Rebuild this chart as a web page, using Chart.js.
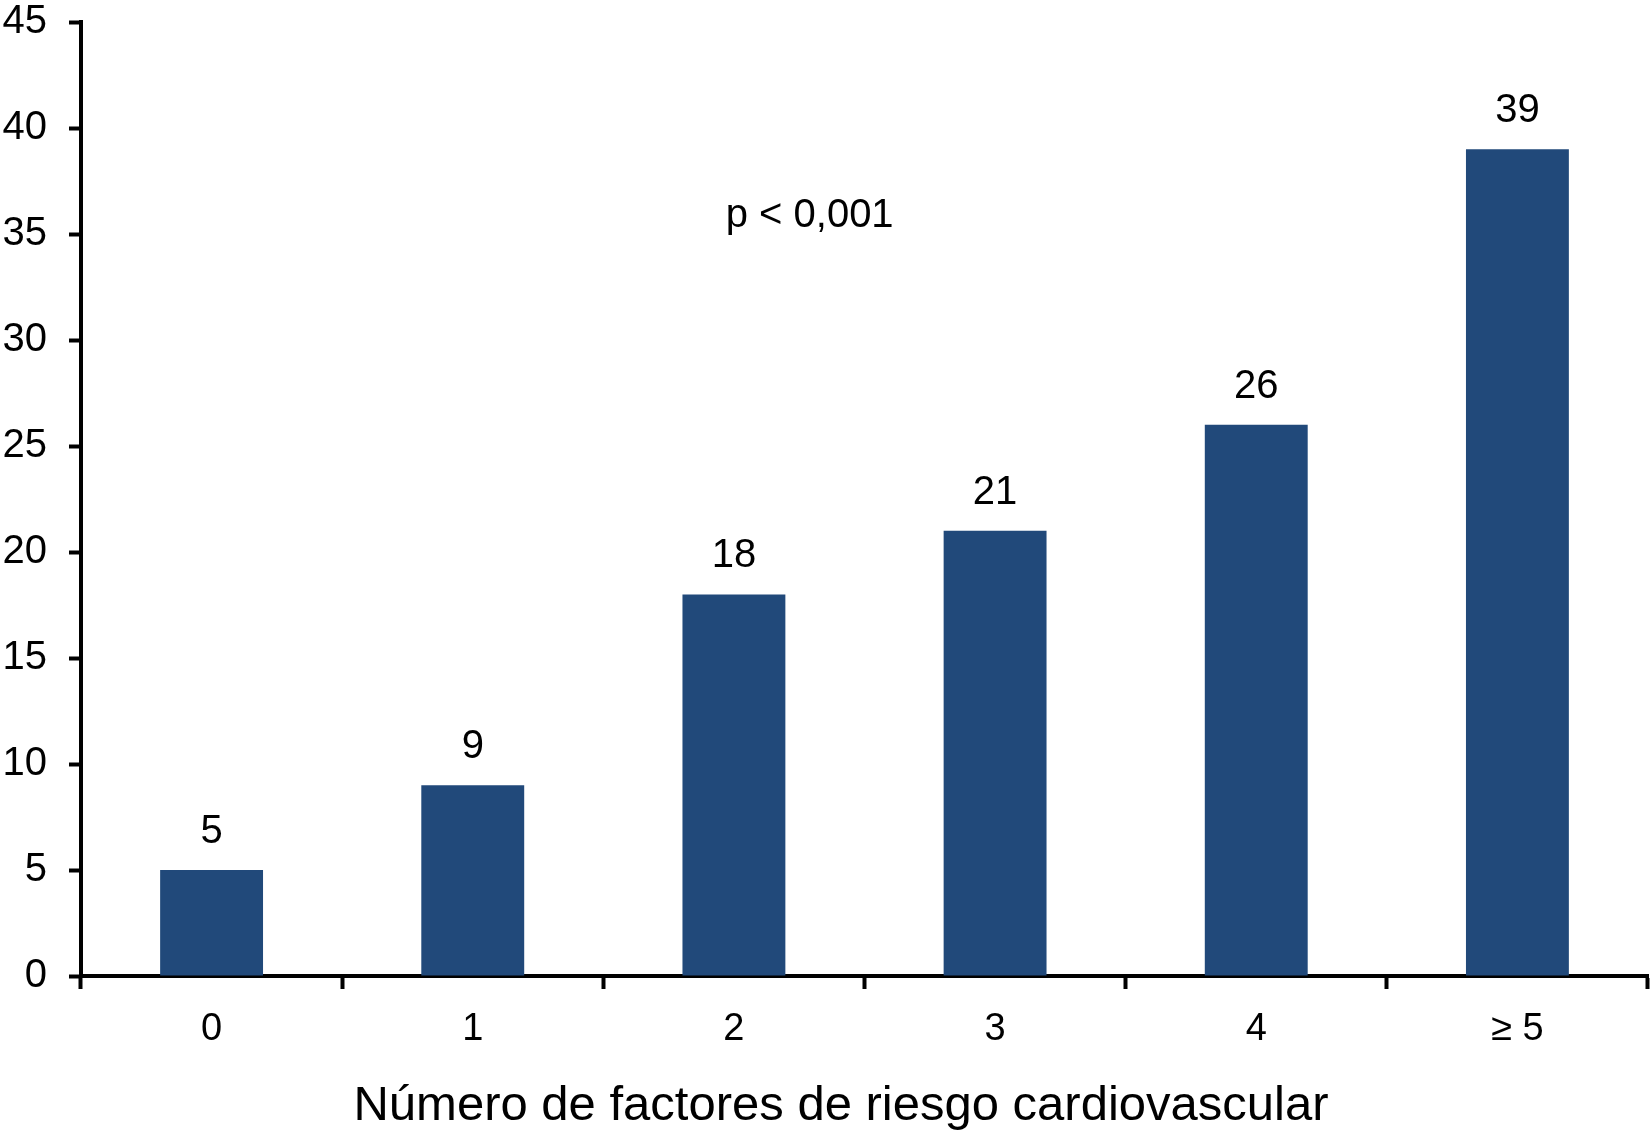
<!DOCTYPE html>
<html>
<head>
<meta charset="utf-8">
<script src="https://cdn.jsdelivr.net/npm/chart.js@4/dist/chart.umd.min.js"></script>
<style>
html,body{margin:0;padding:0;background:#fff;}
#wrap{width:1650px;height:1132px;position:relative;}
</style>
</head>
<body>
<div id="wrap"><canvas id="c" width="1650" height="1132"></canvas></div>
<script>
const categories = ['0', '1', '2', '3', '4', '\u2265 5'];
const values = [5, 9, 18, 21, 26, 39];
const yTicks = [0, 5, 10, 15, 20, 25, 30, 35, 40, 45];
const xTitle = 'Número de factores de riesgo cardiovascular';
const pValueText = 'p < 0,001';
const pValueAt = { x: 2.29, y: 35.33 };
const xTitleAt = 2.41;

const FONT = '"Liberation Sans", Arial, Helvetica, sans-serif';
const BAR = '#21497a';

const labelsPlugin = {
  id: 'labels',
  afterDatasetsDraw(chart) {
    const ctx = chart.ctx;
    const meta = chart.getDatasetMeta(0);
    const xs = chart.scales.x, ys = chart.scales.y;
    ctx.save();
    ctx.fillStyle = '#000';
    ctx.font = '40px ' + FONT;
    ctx.textAlign = 'center';
    ctx.textBaseline = 'alphabetic';
    meta.data.forEach((bar, i) => {
      ctx.fillText(String(values[i]), bar.x, bar.y - 27);
    });
    ctx.fillText(pValueText, xs.getPixelForValue(pValueAt.x), ys.getPixelForValue(pValueAt.y));
    ctx.font = '49px ' + FONT;
    ctx.fillText(xTitle, xs.getPixelForValue(xTitleAt), xs.bottom - 12);
    ctx.restore();
  }
};

new Chart(document.getElementById('c'), {
  type: 'bar',
  data: {
    labels: categories,
    datasets: [{
      data: values,
      backgroundColor: BAR,
      borderWidth: 0,
      categoryPercentage: 1.0,
      barPercentage: 0.394
    }]
  },
  options: {
    responsive: false,
    animation: false,
    devicePixelRatio: 1,
    layout: { padding: { top: 0, right: 2, left: 0, bottom: 0 } },
    plugins: { legend: { display: false }, tooltip: { enabled: false } },
    scales: {
      x: {
        afterFit(scale) { scale.height = 156; },
        grid: {
          display: true, drawOnChartArea: false, drawTicks: true, offset: true,
          tickLength: 13, tickWidth: 4, tickColor: '#000'
        },
        border: { display: true, color: '#000', width: 4 },
        ticks: { color: '#000', font: { family: FONT, size: 38, lineHeight: 1.0 }, padding: 22, maxRotation: 0 }
      },
      y: {
        min: 0, max: 45,
        afterBuildTicks(scale) { scale.ticks = yTicks.map(v => ({ value: v })); },
        afterFit(scale) { scale.width = 81; scale.paddingTop = 22; scale.paddingBottom = 0; },
        grid: {
          display: true, drawOnChartArea: false, drawTicks: true,
          tickLength: 12, tickWidth: 4, tickColor: '#000'
        },
        border: { display: true, color: '#000', width: 4 },
        ticks: { color: '#000', font: { family: FONT, size: 40, lineHeight: 1.0 }, padding: 22 }
      }
    }
  },
  plugins: [labelsPlugin]
});
</script>
</body>
</html>
